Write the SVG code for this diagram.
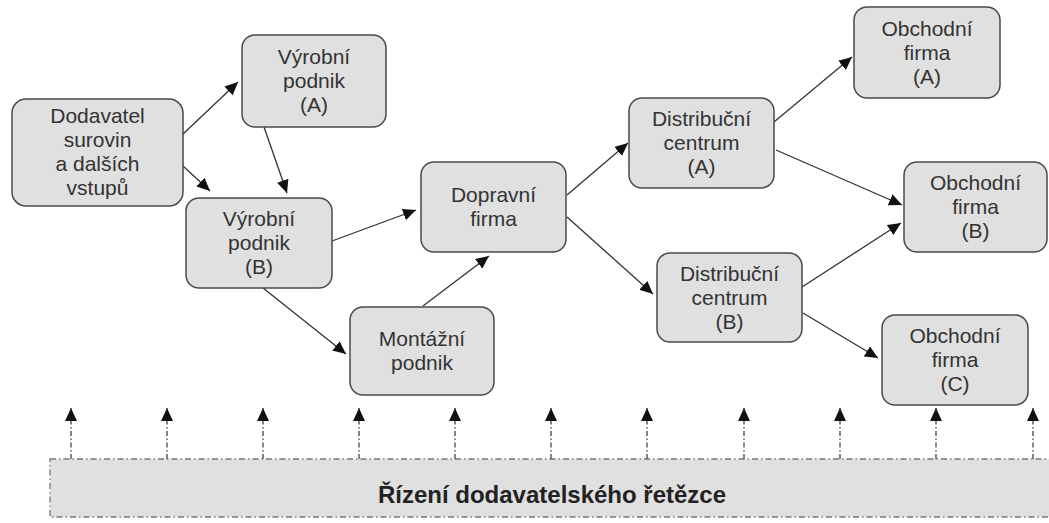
<svg xmlns="http://www.w3.org/2000/svg" width="1049" height="523" viewBox="0 0 1049 523">
  <style>
    .node rect { fill: #e0e0e0; stroke: #4a4a4a; stroke-width: 1.5; }
    .node text { font-family: "Liberation Sans", Arial, sans-serif; font-size: 21px; fill: #333; text-anchor: middle; }
    .flow line { stroke: #333; stroke-width: 1.3; marker-end: url(#head); }
    .info line { stroke: #444; stroke-width: 1.3; stroke-dasharray: 5 2.5 1.5 2.5; marker-end: url(#head); }
    .band rect { fill: #e0e0e0; stroke: #777; stroke-width: 1.3; stroke-dasharray: 6 3 1.5 3; }
    .band text { font-family: "Liberation Sans", Arial, sans-serif; font-size: 24px; font-weight: bold; fill: #222; text-anchor: middle; }
  </style>
  <defs>
    <marker id="head" markerUnits="userSpaceOnUse" markerWidth="14" markerHeight="12" refX="13" refY="6" orient="auto">
      <path d="M0,0 L13,6 L0,12 z" fill="#111"/>
    </marker>
  </defs>
  <rect width="1049" height="523" fill="#fff"/>

  <!-- management band along the bottom -->
  <g id="rizeni" class="band">
    <rect x="50" y="459" width="1010" height="58"/>
    <text x="552" y="503">Řízení dodavatelského řetězce</text>
  </g>

  <!-- material flow connectors -->
  <g id="connectors" class="flow">
    <line x1="183" y1="134" x2="238" y2="82"/>
    <line x1="183" y1="166" x2="210" y2="191"/>
    <line x1="264" y1="127" x2="287" y2="193"/>
    <line x1="332" y1="241" x2="416" y2="210"/>
    <line x1="263" y1="288" x2="346" y2="354"/>
    <line x1="423" y1="306" x2="489" y2="256"/>
    <line x1="567" y1="195" x2="628" y2="143"/>
    <line x1="567" y1="217" x2="653" y2="294"/>
    <line x1="774" y1="122" x2="852" y2="57"/>
    <line x1="776" y1="150" x2="902" y2="205"/>
    <line x1="802" y1="287" x2="901" y2="223"/>
    <line x1="803" y1="313" x2="878" y2="358"/>
  </g>

  <!-- information flow from the management band -->
  <g id="info-connectors" class="info">
    <line x1="71" y1="459" x2="71" y2="408"/>
    <line x1="167" y1="459" x2="167" y2="408"/>
    <line x1="263" y1="459" x2="263" y2="408"/>
    <line x1="359" y1="459" x2="359" y2="408"/>
    <line x1="455" y1="459" x2="455" y2="408"/>
    <line x1="551" y1="459" x2="551" y2="408"/>
    <line x1="647" y1="459" x2="647" y2="408"/>
    <line x1="744" y1="459" x2="744" y2="408"/>
    <line x1="840" y1="459" x2="840" y2="408"/>
    <line x1="936" y1="459" x2="936" y2="408"/>
    <line x1="1033" y1="459" x2="1033" y2="408"/>
  </g>

  <g id="dodavatel" class="node">
    <rect x="12" y="99" width="171" height="107" rx="14"/>
    <text x="97.5" y="123">Dodavatel</text>
    <text x="97.5" y="147">surovin</text>
    <text x="97.5" y="171">a dalších</text>
    <text x="97.5" y="195">vstupů</text>
  </g>
  <g id="vyrobni-a" class="node">
    <rect x="242" y="35" width="144" height="92" rx="13"/>
    <text x="314" y="64">Výrobní</text>
    <text x="314" y="88">podnik</text>
    <text x="314" y="112">(A)</text>
  </g>
  <g id="vyrobni-b" class="node">
    <rect x="186" y="198" width="146" height="90" rx="13"/>
    <text x="259" y="226">Výrobní</text>
    <text x="259" y="250">podnik</text>
    <text x="259" y="274">(B)</text>
  </g>
  <g id="dopravni" class="node">
    <rect x="421" y="162" width="145" height="90" rx="13"/>
    <text x="493.5" y="202">Dopravní</text>
    <text x="493.5" y="226">firma</text>
  </g>
  <g id="montazni" class="node">
    <rect x="350" y="307" width="144" height="88" rx="13"/>
    <text x="422" y="346">Montážní</text>
    <text x="422" y="370">podnik</text>
  </g>
  <g id="distribucni-a" class="node">
    <rect x="629" y="98" width="145" height="90" rx="13"/>
    <text x="701.5" y="126">Distribuční</text>
    <text x="701.5" y="150">centrum</text>
    <text x="701.5" y="174">(A)</text>
  </g>
  <g id="distribucni-b" class="node">
    <rect x="657" y="253" width="145" height="89" rx="13"/>
    <text x="729.5" y="281">Distribuční</text>
    <text x="729.5" y="305">centrum</text>
    <text x="729.5" y="329">(B)</text>
  </g>
  <g id="obchodni-a" class="node">
    <rect x="854" y="7" width="146" height="91" rx="13"/>
    <text x="927" y="36">Obchodní</text>
    <text x="927" y="60">firma</text>
    <text x="927" y="84">(A)</text>
  </g>
  <g id="obchodni-b" class="node">
    <rect x="904" y="162" width="143" height="90" rx="13"/>
    <text x="975.5" y="190">Obchodní</text>
    <text x="975.5" y="214">firma</text>
    <text x="975.5" y="238">(B)</text>
  </g>
  <g id="obchodni-c" class="node">
    <rect x="882" y="315" width="146" height="90" rx="13"/>
    <text x="955" y="343">Obchodní</text>
    <text x="955" y="367">firma</text>
    <text x="955" y="391">(C)</text>
  </g>
</svg>
